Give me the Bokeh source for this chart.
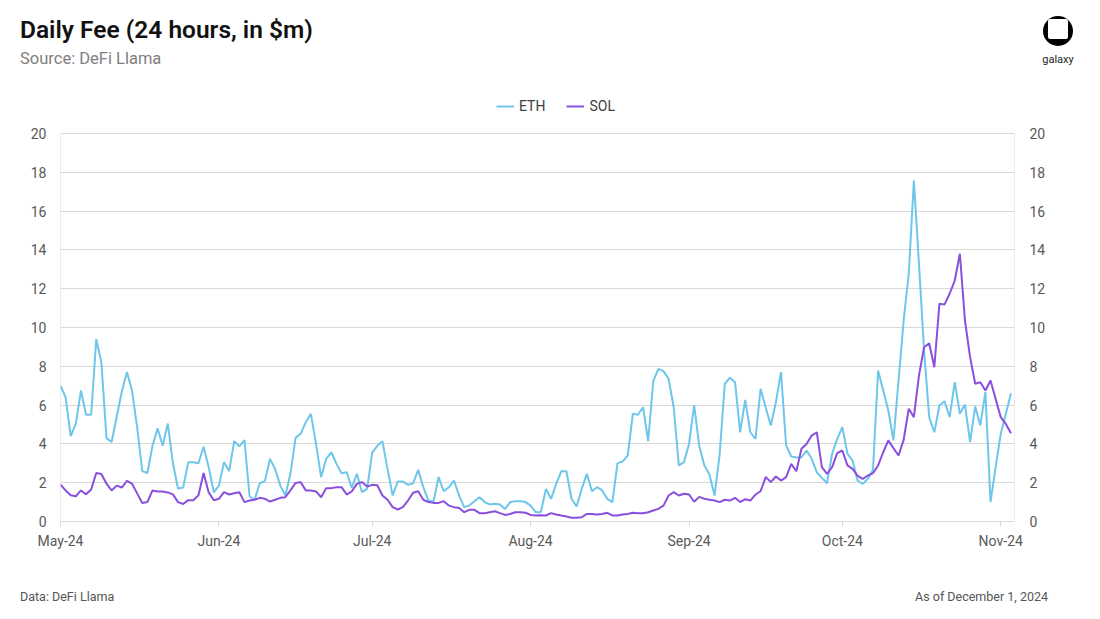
import pandas as pd
from bokeh.plotting import figure
from bokeh.layouts import column
from bokeh.models import (Div, Legend, LegendItem, LinearAxis, Range1d,
                          DatetimeTickFormatter, MonthsTicker, ColumnDataSource)
from bokeh.embed import file_html
from bokeh.resources import INLINE

# Daily values from 2024-05-01 (in $m)
eth = [7.0, 6.4, 4.4, 5.05, 6.75, 5.5, 5.5, 9.4, 8.2, 4.3,
       4.1, 5.4, 6.7, 7.7, 6.75, 4.85, 2.6, 2.5, 3.9, 4.8,
       3.9, 5.05, 3.0, 1.7, 1.75, 3.05, 3.05, 3.0, 3.85, 2.8,
       1.5, 1.85, 3.06, 2.6, 4.14, 3.87, 4.2, 1.29, 1.12, 1.97,
       2.08, 3.23, 2.71, 1.86, 1.34, 2.46, 4.31, 4.52, 5.12, 5.55,
       4.0, 2.29, 3.23, 3.57, 2.97, 2.49, 2.54, 1.74, 2.46, 1.51,
       1.68, 3.55, 3.9, 4.14, 2.7, 1.34, 2.06, 2.06, 1.89, 1.97,
       2.66, 1.77, 1.08, 1.03, 2.29, 1.56, 1.77, 2.11, 1.34, 0.74,
       0.82, 1.05, 1.25, 1.0, 0.88, 0.91, 0.88, 0.65, 1.0, 1.05,
       1.05, 1.0, 0.82, 0.48, 0.48, 1.68, 1.17, 1.94, 2.59, 2.59,
       1.17, 0.77, 1.68, 2.46, 1.56, 1.77, 1.6, 1.17, 1.0, 3.01,
       3.09, 3.4, 5.55, 5.5, 5.89, 4.14, 7.23, 7.87, 7.75, 7.35,
       5.89, 2.89, 3.06, 4.0, 6.0, 3.9, 2.89, 2.42, 1.34, 3.49,
       7.1, 7.41, 7.18, 4.6, 6.27, 4.6, 4.26, 6.84, 5.89, 4.95,
       6.15, 7.7, 3.92, 3.35, 3.3, 3.3, 3.66, 3.23, 2.54, 2.25,
       1.97, 3.49, 4.26, 4.86, 3.5, 3.14, 2.1, 1.94, 2.2, 2.66,
       7.78, 6.75, 5.72, 4.18, 7.27, 10.36, 12.77, 17.58, 13.28, 8.81,
       5.38, 4.6, 5.98, 6.2, 5.38, 7.18, 5.55, 6.03, 4.09, 5.93,
       4.95, 6.67, 1.0, 2.8, 4.52, 5.55, 6.61]

sol = [1.9, 1.6, 1.35, 1.3, 1.6, 1.4, 1.65, 2.5, 2.45, 1.95,
       1.6, 1.85, 1.75, 2.1, 1.95, 1.45, 0.95, 1.0, 1.6, 1.55,
       1.55, 1.5, 1.4, 1.0, 0.9, 1.1, 1.1, 1.35, 2.5, 1.5,
       1.1, 1.17, 1.51, 1.39, 1.46, 1.51, 1.0, 1.08, 1.12, 1.22,
       1.17, 1.03, 1.12, 1.22, 1.25, 1.6, 1.99, 2.03, 1.6, 1.6,
       1.55, 1.25, 1.72, 1.72, 1.77, 1.77, 1.39, 1.55, 1.94, 2.03,
       1.8, 1.89, 1.87, 1.34, 1.12, 0.74, 0.62, 0.74, 1.08, 1.48,
       1.56, 1.12, 1.0, 0.96, 0.96, 1.05, 0.82, 0.74, 0.7, 0.48,
       0.6, 0.6, 0.43, 0.43, 0.48, 0.53, 0.43, 0.34, 0.39, 0.48,
       0.48, 0.45, 0.34, 0.31, 0.32, 0.31, 0.43, 0.36, 0.31, 0.26,
       0.19, 0.19, 0.22, 0.39, 0.39, 0.36, 0.39, 0.45, 0.31, 0.31,
       0.36, 0.39, 0.45, 0.43, 0.43, 0.48, 0.57, 0.65, 0.82, 1.34,
       1.51, 1.34, 1.43, 1.39, 1.02, 1.27, 1.17, 1.12, 1.08, 1.0,
       1.12, 1.08, 1.22, 1.0, 1.15, 1.08, 1.39, 1.56, 2.29, 2.03,
       2.32, 2.11, 2.29, 2.97, 2.59, 3.75, 4.0, 4.43, 4.6, 2.8,
       2.46, 2.8, 3.52, 3.66, 2.89, 2.71, 2.35, 2.2, 2.37, 2.49,
       2.89, 3.57, 4.18, 3.78, 3.4, 4.21, 5.81, 5.38, 7.53, 8.98,
       9.19, 7.95, 11.22, 11.19, 11.74, 12.42, 13.8, 10.36, 8.47, 7.1,
       7.18, 6.75, 7.27, 6.32, 5.38, 5.03, 4.55]

series_names = ["ETH", "SOL"]
series_colors = ["#6EC6EA", "#8A4FDD"]
y_ticks = list(range(0, 21, 2))
y_max = 20

title_text = "Daily Fee (24 hours, in $m)"
subtitle_text = "Source: DeFi Llama"
footer_left = "Data: DeFi Llama"
footer_right = "As of December 1, 2024"

dates = pd.date_range("2024-05-01", periods=len(eth), freq="D")
src = ColumnDataSource(dict(date=dates, eth=eth, sol=sol))

FONT = "Roboto"
GRID = "#d9d9d9"
TICK_TXT = "#595959"

# page geometry
W = 1084
HEAD_H = 80            # header div height
FIG_H = 480            # figure height (page y 80..560)
FOOT_H = 43            # footer div height
FL, FR, FT, FB = 60, 1014, 92, 521   # frame in page pixels
px_per_unit = (FB - 133) / y_max      # value 20 sits at y=133
px_per_day = 5.11

x_start = pd.Timestamp("2024-05-01")
x_end = x_start + pd.Timedelta(days=(FR - FL) / px_per_day)
y_end = y_max + (133 - FT) / px_per_unit

p = figure(width=W, height=FIG_H, x_axis_type="datetime",
           x_range=Range1d(x_start, x_end), y_range=Range1d(0, y_end),
           output_backend="svg", toolbar_location=None,
           min_border_left=FL, min_border_right=W - FR,
           min_border_top=FT - HEAD_H, min_border_bottom=HEAD_H + FIG_H - FB,
           margin=0)
p.outline_line_color = None
p.background_fill_color = "white"
p.border_fill_color = "white"

# y axis lines spanning 0..20
p.segment(x0=[x_start, x_end], y0=[0, 0], x1=[x_start, x_end], y1=[y_max, y_max],
          line_color=GRID, line_width=1)

r_eth = p.line("date", "eth", source=src, line_color=series_colors[0], line_width=2)
r_sol = p.line("date", "sol", source=src, line_color=series_colors[1], line_width=2)

p.xgrid.grid_line_color = None
p.ygrid.grid_line_color = GRID
p.ygrid.grid_line_width = 1
p.yaxis.ticker = y_ticks

xa = p.xaxis[0]
xa.ticker = MonthsTicker(months=list(range(12)))
xa.formatter = DatetimeTickFormatter(months="%b-%y", days="%b-%y",
                                     years="%b-%y", hours="%b-%y")
xa.axis_line_color = GRID
xa.major_tick_line_color = GRID
xa.major_tick_out = 5
xa.major_tick_in = 0
xa.minor_tick_line_color = None
xa.major_label_standoff = 6
xa.major_label_text_font = FONT
xa.major_label_text_font_size = "14px"
xa.major_label_text_color = TICK_TXT

def style_y(ax, standoff):
    ax.axis_line_color = None
    ax.major_tick_line_color = None
    ax.minor_tick_line_color = None
    ax.major_tick_out = 0
    ax.major_tick_in = 0
    ax.minor_tick_out = 0
    ax.major_label_standoff = standoff
    ax.major_label_text_font = FONT
    ax.major_label_text_font_size = "14px"
    ax.major_label_text_color = TICK_TXT

style_y(p.yaxis[0], 14)
ra = LinearAxis(ticker=y_ticks)
style_y(ra, 15)
p.add_layout(ra, "right")

# legend: bottom-left corner given relative to the frame's bottom-left
legend = Legend(items=[LegendItem(label=series_names[0], renderers=[r_eth]),
                       LegendItem(label=series_names[1], renderers=[r_sol])],
                orientation="horizontal", location=(496 - FL, FB - 116),
                margin=0, padding=0, spacing=21, glyph_width=18,
                glyph_height=20, label_height=20, label_standoff=5,
                border_line_alpha=0, background_fill_alpha=0,
                label_text_font=FONT, label_text_font_size="14px",
                label_text_color="#404040")
p.add_layout(legend)

def abs_span(txt, left=None, right=None, top=0, size=12, color="#000",
             weight="normal", lh=None, center=False, width=None):
    lh = lh or round(size * 1.2)
    pos = f"left:{left}px;" if left is not None else f"right:{right}px;"
    extra = f"width:{width}px;text-align:center;" if center else "white-space:nowrap;"
    return (f'<div style="position:absolute;{pos}top:{top}px;font-family:{FONT},sans-serif;'
            f'font-size:{size}px;line-height:{lh}px;color:{color};font-weight:{weight};{extra}">'
            f'{txt}</div>')

logo = ('<div style="position:absolute;left:1043px;top:16px;width:30px;height:30px;'
        'border-radius:50%;background:#000;"></div>'
        '<div style="position:absolute;left:1048px;top:19px;width:20px;height:20px;'
        'border-radius:2px;background:#fff;"></div>')

header_html = ('<div style="position:relative;width:1084px;height:80px;">'
               + abs_span(title_text, left=20, top=16, size=24.5, color="#111111",
                          weight="600", lh=28)
               + abs_span(subtitle_text, left=20, top=49, size=16.5, color="#808080", lh=20)
               + logo
               + abs_span("galaxy", left=1028, top=53, size=11, color="#222222",
                          lh=14, center=True, width=60)
               + '</div>')

footer_html = ('<div style="position:relative;width:1084px;height:43px;">'
               + abs_span(footer_left, left=20, top=30, size=12.5, color="#555555", lh=14)
               + abs_span(footer_right, right=1084 - 1048, top=30, size=12.5,
                          color="#555555", lh=14)
               + '</div>')

header = Div(text=header_html, width=W, height=HEAD_H, margin=0)
footer = Div(text=footer_html, width=W, height=FOOT_H, margin=0)

layout = column(header, p, footer, spacing=0, margin=0)

open("out.html", "w").write(file_html(layout, INLINE))
